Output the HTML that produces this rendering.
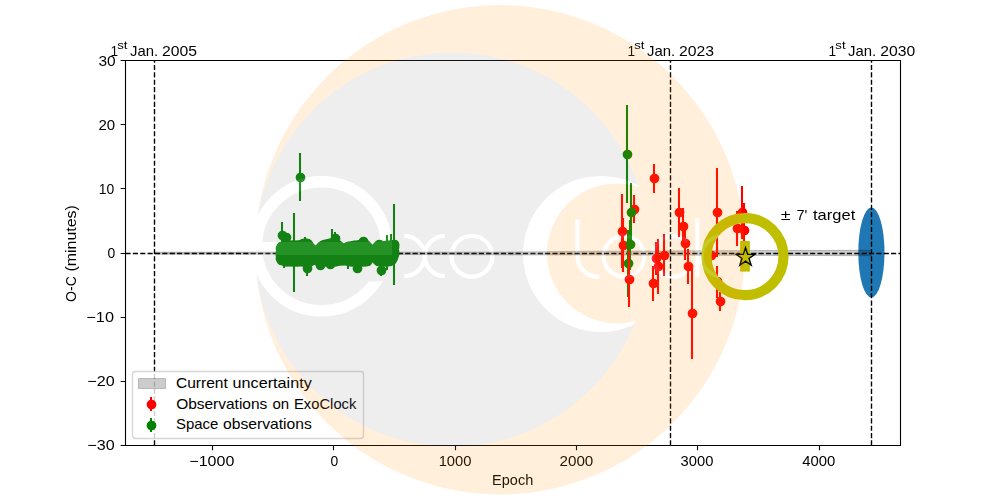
<!DOCTYPE html>
<html lang="en"><head><meta charset="utf-8"><title>O-C diagram</title>
<style>
html,body{margin:0;padding:0;background:#fff;}
body{width:1000px;height:500px;overflow:hidden;}
svg{display:block;}
text{font-family:"Liberation Sans",sans-serif;fill:#000;font-kerning:none;font-variant-ligatures:none;}
</style></head><body>
<svg width="1000" height="500" viewBox="0 0 1000 500">
<defs><clipPath id="ax"><rect x="125" y="60" width="775" height="385"/></clipPath>
<clipPath id="gc"><circle cx="452" cy="249.5" r="197"/></clipPath>
<mask id="egap" maskUnits="userSpaceOnUse" x="240" y="160" width="170" height="170"><rect x="240" y="160" width="170" height="170" fill="#fff"/><rect x="335" y="255" width="70" height="26.4" fill="#000"/></mask>
</defs>
<rect width="1000" height="500" fill="#fff"/>
<g clip-path="url(#ax)">
<ellipse cx="871.4" cy="252.5" rx="13.1" ry="44.95" fill="#1f77b4"/>
<path d="M154.4 252.1L450 252.1L508 252L596 251.2L768 250.5L850 250.35L871.4 250.3L871.4 255.7L850 255.65L768 255.4L596 255L508 254.95L450 254.65L300 254.2L154.4 254.15Z" fill="#000" fill-opacity="0.2" stroke="#000" stroke-opacity="0.2" stroke-width="1"/>
<path d="M125.5 253.5H900.5" stroke="#000" stroke-width="1.389" stroke-dasharray="5.139 2.222" fill="none"/>
<path d="M154.5 445.5V60.5" stroke="#000" stroke-width="1.389" stroke-dasharray="5.139 2.222" fill="none"/>
<path d="M670.5 445.5V60.5" stroke="#000" stroke-width="1.389" stroke-dasharray="5.139 2.222" fill="none"/>
<path d="M871.5 445.5V60.5" stroke="#000" stroke-width="1.389" stroke-dasharray="5.139 2.222" fill="none"/>
<path d="M622 194V268M623 218V272M634 195V223M654 164V193M653 266V301M656 242V275M658 239V294M664 234V276M679 188V237M683 208V244M685 228V260M688 249V284M692 268V359M711 249V261M717 168V257M717 266V298M720 292V311M737 211V246M742 186V239M744 203V257" stroke="#ff0000" stroke-width="2.083" fill="none"/>
<g fill="#ff0000"><circle cx="622.5" cy="231.5" r="4.86"/><circle cx="623.5" cy="245.5" r="4.86"/><circle cx="634.5" cy="209.5" r="4.86"/><circle cx="654.5" cy="178.5" r="4.86"/><circle cx="653.5" cy="283.5" r="4.86"/><circle cx="656.5" cy="258.5" r="4.86"/><circle cx="658.5" cy="266.5" r="4.86"/><circle cx="664.5" cy="255.5" r="4.86"/><circle cx="679.5" cy="212.5" r="4.86"/><circle cx="683.5" cy="226.5" r="4.86"/><circle cx="685.5" cy="243.5" r="4.86"/><circle cx="688.5" cy="266.5" r="4.86"/><circle cx="692.5" cy="313.5" r="4.86"/><circle cx="711.5" cy="255.5" r="4.86"/><circle cx="717.5" cy="212.5" r="4.86"/><circle cx="717.5" cy="281.5" r="4.86"/><circle cx="720.5" cy="301.5" r="4.86"/><circle cx="737.5" cy="228.5" r="4.86"/><circle cx="742.5" cy="212.5" r="4.86"/><circle cx="744.5" cy="230.5" r="4.86"/></g>
<path d="M280 250V255M280 251V256M280 251V256M280 246V251M280 256V261M280 253V258M281 245V250M281 257V262M281 249V254M281 244V249M281 258V263M281 251V256M282 244V249M282 258V263M282 257V262M282 244V249M282 258V263M282 257V262M283 244V249M283 258V263M283 245V250M284 244V249M284 258V263M284 247V252M284 243V248M284 258V263M284 244V249M285 243V248M285 259V264M285 250V255M285 243V248M285 259V264M285 244V249M286 243V248M286 259V264M286 250V255M286 243V248M286 259V264M286 253V258M287 243V248M287 259V264M287 247V252M287 243V248M287 259V264M287 254V259M288 243V248M288 259V264M288 252V257M288 243V248M288 259V264M288 243V248M289 243V248M289 259V264M289 252V257M290 243V248M290 259V264M290 247V252M290 243V248M290 259V264M290 249V254M291 243V248M291 259V264M291 247V252M291 243V248M291 259V264M291 254V259M292 243V248M292 259V264M292 250V255M292 243V248M292 259V264M292 245V250M293 243V248M293 259V264M293 252V257M293 243V248M293 259V264M293 255V260M294 243V248M294 259V264M294 248V253M295 243V248M295 259V264M295 246V251M295 243V248M295 259V264M295 249V254M296 243V248M296 259V264M296 258V263M296 243V248M296 259V264M296 259V264M297 243V248M297 259V264M297 254V259M297 243V248M297 259V264M297 258V263M298 243V248M298 259V264M298 257V262M298 243V248M298 259V264M298 249V254M299 243V248M299 259V264M299 244V249M299 243V248M299 259V264M299 253V258M300 243V248M300 259V264M300 252V257M301 242V247M301 259V264M301 248V253M301 242V247M301 259V264M301 246V251M302 242V247M302 259V264M302 249V254M302 242V247M302 259V264M302 250V255M303 242V247M303 259V264M303 246V251M303 241V246M303 259V264M303 247V252M304 241V246M304 259V264M304 249V254M304 241V246M304 259V264M304 257V262M305 241V246M305 259V264M305 252V257M306 241V246M306 259V264M306 246V251M306 241V246M306 259V264M306 246V251M307 241V246M307 259V264M307 249V254M307 242V247M307 259V264M307 245V250M308 242V247M308 259V264M308 246V251M308 243V248M308 259V264M308 251V256M309 244V249M309 259V264M309 245V250M309 244V249M309 259V264M309 251V256M310 245V250M310 259V264M310 250V255M310 246V251M310 258V263M310 254V259M311 246V251M311 258V263M311 255V260M312 247V252M312 257V262M312 254V259M312 247V252M312 257V262M312 254V259M313 248V253M313 257V262M313 251V256M313 248V253M313 257V262M313 254V259M314 248V253M314 257V262M314 251V256M314 248V253M314 257V262M314 253V258M315 249V254M315 257V262M315 251V256M315 249V254M315 257V262M315 252V257M316 249V254M316 257V262M316 249V254M317 248V253M317 258V263M317 251V256M317 248V253M317 258V263M317 258V263M318 248V253M318 258V263M318 250V255M318 248V253M318 259V264M318 255V260M319 247V252M319 259V264M319 255V260M319 246V251M319 259V264M319 255V260M320 246V251M320 259V264M320 252V257M320 245V250M320 259V264M320 253V258M321 244V249M321 259V264M321 245V250M321 244V249M321 259V264M321 245V250M322 243V248M322 259V264M322 246V251M323 243V248M323 259V264M323 245V250M323 243V248M323 259V264M323 244V249M324 243V248M324 259V264M324 245V250M324 242V247M324 259V264M324 252V257M325 242V247M325 259V264M325 245V250M325 242V247M325 259V264M325 258V263M326 242V247M326 259V264M326 253V258M326 242V247M326 259V264M326 251V256M327 242V247M327 259V264M327 254V259M328 242V247M328 259V264M328 246V251M328 242V247M328 259V264M328 257V262M329 241V246M329 259V264M329 256V261M329 241V246M329 259V264M329 254V259M330 241V246M330 259V264M330 250V255M330 241V246M330 259V264M330 256V261M331 241V246M331 259V264M331 254V259M331 241V246M331 259V264M331 253V258M332 241V246M332 259V264M332 257V262M332 241V246M332 259V264M332 252V257M333 241V246M333 259V264M333 248V253M334 241V246M334 259V264M334 251V256M334 241V246M334 259V264M334 245V250M335 241V246M335 259V264M335 245V250M335 241V246M335 259V264M335 254V259M336 242V247M336 259V264M336 255V260M336 242V247M336 259V264M336 258V263M337 242V247M337 258V263M337 256V261M337 243V248M337 258V263M337 251V256M338 243V248M338 258V263M338 244V249M339 244V249M339 258V263M339 251V256M339 244V249M339 258V263M339 257V262M340 245V250M340 258V263M340 256V261M340 245V250M340 258V263M340 252V257M341 246V251M341 258V263M341 252V257M341 246V251M341 258V263M341 249V254M342 246V251M342 258V263M342 248V253M342 246V251M342 258V263M342 247V252M343 246V251M343 258V263M343 257V262M343 246V251M343 258V263M343 254V259M344 246V251M344 258V263M344 248V253M345 246V251M345 258V263M345 251V256M345 246V251M345 258V263M345 247V252M346 246V251M346 258V263M346 248V253M346 245V250M346 258V263M346 255V260M347 245V250M347 258V263M347 254V259M347 245V250M347 258V263M347 251V256M348 244V249M348 258V263M348 248V253M348 244V249M348 258V263M348 254V259M349 244V249M349 259V264M349 258V263M350 244V249M350 259V264M350 250V255M350 244V249M350 259V264M350 245V250M351 244V249M351 259V264M351 245V250M351 244V249M351 259V264M351 245V250M352 244V249M352 259V264M352 258V263M352 244V249M352 259V264M352 252V257M353 244V249M353 259V264M353 256V261M353 243V248M353 259V264M353 246V251M354 243V248M354 259V264M354 247V252M354 243V248M354 259V264M354 254V259M355 243V248M355 259V264M355 257V262M356 243V248M356 259V264M356 248V253M356 243V248M356 259V264M356 244V249M357 243V248M357 259V264M357 257V262M357 243V248M357 259V264M357 248V253M358 243V248M358 259V264M358 255V260M358 243V248M358 259V264M358 245V250M359 243V248M359 259V264M359 254V259M359 243V248M359 259V264M359 256V261M360 242V247M360 259V264M360 255V260M361 242V247M361 259V264M361 248V253M361 242V247M361 259V264M361 254V259M362 242V247M362 259V264M362 245V250M362 242V247M362 259V264M362 247V252M363 242V247M363 259V264M363 249V254M363 242V247M363 259V264M363 257V262M364 242V247M364 259V264M364 245V250M364 242V247M364 259V264M364 257V262M365 242V247M365 259V264M365 256V261M365 243V248M365 259V264M365 258V263M366 243V248M366 259V264M366 249V254M367 244V249M367 259V264M367 247V252M367 245V250M367 258V263M367 248V253M368 245V250M368 256V261M368 255V260M368 246V251M368 256V261M368 255V260M369 247V252M369 255V260M369 253V258M369 247V252M369 255V260M369 251V256M370 247V252M370 254V259M370 249V254M370 248V253M370 254V259M370 253V258M371 248V253M371 254V259M371 253V258M372 248V253M372 254V259M372 248V253M372 248V253M372 254V259M372 249V254M373 248V253M373 254V259M373 253V258M373 248V253M373 254V259M373 253V258M374 247V252M374 254V259M374 250V255M374 247V252M374 255V260M374 249V254M375 247V252M375 255V260M375 250V255M375 246V251M375 256V261M375 251V256M376 246V251M376 256V261M376 247V252M376 245V250M376 257V262M376 255V260M377 244V249M377 258V263M377 251V256M378 243V248M378 258V263M378 255V260M378 243V248M378 259V264M378 247V252M379 243V248M379 259V264M379 258V263M379 243V248M379 259V264M379 255V260M380 243V248M380 259V264M380 249V254M380 243V248M380 259V264M380 258V263M381 244V249M381 259V264M381 254V259M381 244V249M381 259V264M381 256V261M382 244V249M382 259V264M382 244V249M383 244V249M383 259V264M383 245V250M383 244V249M383 259V264M383 255V260M384 244V249M384 259V264M384 248V253M384 244V249M384 259V264M384 252V257M385 244V249M385 259V264M385 246V251M385 244V249M385 259V264M385 259V264M386 243V248M386 259V264M386 251V256M386 243V248M386 259V264M386 256V261M387 243V248M387 259V264M387 244V249M387 243V248M387 259V264M387 251V256M388 243V248M388 259V264M388 244V249M389 243V248M389 259V264M389 257V262M389 243V248M389 258V263M389 250V255M390 243V248M390 258V263M390 244V249M390 243V248M390 258V263M390 244V249M391 243V248M391 258V263M391 251V256M391 243V248M391 258V263M391 244V249M392 243V248M392 257V262M392 246V251M392 243V248M392 256V261M392 249V254M393 244V249M393 255V260M393 249V254M394 245V250M394 252V257M394 249V254M300 153V201M282 222V248M286 234V240M294 213V292M335 232V244M332 229V257M394 204V285M394 242V248M307 260V276M320 262V268M330 261V267M357 265V271M381 265V276M387 235V270M391 234V266M363 238V244M379 241V247M305 237V259M284 248V268M348 247V269M627 105V203M631 183V241M630 220V270M628 230V297" stroke="#008000" stroke-width="2.083" fill="none"/>
<g fill="#008000"><circle cx="280.5" cy="252.5" r="4.86"/><circle cx="280.5" cy="253.5" r="4.86"/><circle cx="280.5" cy="253.5" r="4.86"/><circle cx="280.5" cy="248.5" r="4.86"/><circle cx="280.5" cy="258.5" r="4.86"/><circle cx="280.5" cy="255.5" r="4.86"/><circle cx="281.5" cy="247.5" r="4.86"/><circle cx="281.5" cy="259.5" r="4.86"/><circle cx="281.5" cy="251.5" r="4.86"/><circle cx="281.5" cy="246.5" r="4.86"/><circle cx="281.5" cy="260.5" r="4.86"/><circle cx="281.5" cy="253.5" r="4.86"/><circle cx="282.5" cy="246.5" r="4.86"/><circle cx="282.5" cy="260.5" r="4.86"/><circle cx="282.5" cy="259.5" r="4.86"/><circle cx="282.5" cy="246.5" r="4.86"/><circle cx="282.5" cy="260.5" r="4.86"/><circle cx="282.5" cy="259.5" r="4.86"/><circle cx="283.5" cy="246.5" r="4.86"/><circle cx="283.5" cy="260.5" r="4.86"/><circle cx="283.5" cy="247.5" r="4.86"/><circle cx="284.5" cy="246.5" r="4.86"/><circle cx="284.5" cy="260.5" r="4.86"/><circle cx="284.5" cy="249.5" r="4.86"/><circle cx="284.5" cy="245.5" r="4.86"/><circle cx="284.5" cy="260.5" r="4.86"/><circle cx="284.5" cy="246.5" r="4.86"/><circle cx="285.5" cy="245.5" r="4.86"/><circle cx="285.5" cy="261.5" r="4.86"/><circle cx="285.5" cy="252.5" r="4.86"/><circle cx="285.5" cy="245.5" r="4.86"/><circle cx="285.5" cy="261.5" r="4.86"/><circle cx="285.5" cy="246.5" r="4.86"/><circle cx="286.5" cy="245.5" r="4.86"/><circle cx="286.5" cy="261.5" r="4.86"/><circle cx="286.5" cy="252.5" r="4.86"/><circle cx="286.5" cy="245.5" r="4.86"/><circle cx="286.5" cy="261.5" r="4.86"/><circle cx="286.5" cy="255.5" r="4.86"/><circle cx="287.5" cy="245.5" r="4.86"/><circle cx="287.5" cy="261.5" r="4.86"/><circle cx="287.5" cy="249.5" r="4.86"/><circle cx="287.5" cy="245.5" r="4.86"/><circle cx="287.5" cy="261.5" r="4.86"/><circle cx="287.5" cy="256.5" r="4.86"/><circle cx="288.5" cy="245.5" r="4.86"/><circle cx="288.5" cy="261.5" r="4.86"/><circle cx="288.5" cy="254.5" r="4.86"/><circle cx="288.5" cy="245.5" r="4.86"/><circle cx="288.5" cy="261.5" r="4.86"/><circle cx="288.5" cy="245.5" r="4.86"/><circle cx="289.5" cy="245.5" r="4.86"/><circle cx="289.5" cy="261.5" r="4.86"/><circle cx="289.5" cy="254.5" r="4.86"/><circle cx="290.5" cy="245.5" r="4.86"/><circle cx="290.5" cy="261.5" r="4.86"/><circle cx="290.5" cy="249.5" r="4.86"/><circle cx="290.5" cy="245.5" r="4.86"/><circle cx="290.5" cy="261.5" r="4.86"/><circle cx="290.5" cy="251.5" r="4.86"/><circle cx="291.5" cy="245.5" r="4.86"/><circle cx="291.5" cy="261.5" r="4.86"/><circle cx="291.5" cy="249.5" r="4.86"/><circle cx="291.5" cy="245.5" r="4.86"/><circle cx="291.5" cy="261.5" r="4.86"/><circle cx="291.5" cy="256.5" r="4.86"/><circle cx="292.5" cy="245.5" r="4.86"/><circle cx="292.5" cy="261.5" r="4.86"/><circle cx="292.5" cy="252.5" r="4.86"/><circle cx="292.5" cy="245.5" r="4.86"/><circle cx="292.5" cy="261.5" r="4.86"/><circle cx="292.5" cy="247.5" r="4.86"/><circle cx="293.5" cy="245.5" r="4.86"/><circle cx="293.5" cy="261.5" r="4.86"/><circle cx="293.5" cy="254.5" r="4.86"/><circle cx="293.5" cy="245.5" r="4.86"/><circle cx="293.5" cy="261.5" r="4.86"/><circle cx="293.5" cy="257.5" r="4.86"/><circle cx="294.5" cy="245.5" r="4.86"/><circle cx="294.5" cy="261.5" r="4.86"/><circle cx="294.5" cy="250.5" r="4.86"/><circle cx="295.5" cy="245.5" r="4.86"/><circle cx="295.5" cy="261.5" r="4.86"/><circle cx="295.5" cy="248.5" r="4.86"/><circle cx="295.5" cy="245.5" r="4.86"/><circle cx="295.5" cy="261.5" r="4.86"/><circle cx="295.5" cy="251.5" r="4.86"/><circle cx="296.5" cy="245.5" r="4.86"/><circle cx="296.5" cy="261.5" r="4.86"/><circle cx="296.5" cy="260.5" r="4.86"/><circle cx="296.5" cy="245.5" r="4.86"/><circle cx="296.5" cy="261.5" r="4.86"/><circle cx="296.5" cy="261.5" r="4.86"/><circle cx="297.5" cy="245.5" r="4.86"/><circle cx="297.5" cy="261.5" r="4.86"/><circle cx="297.5" cy="256.5" r="4.86"/><circle cx="297.5" cy="245.5" r="4.86"/><circle cx="297.5" cy="261.5" r="4.86"/><circle cx="297.5" cy="260.5" r="4.86"/><circle cx="298.5" cy="245.5" r="4.86"/><circle cx="298.5" cy="261.5" r="4.86"/><circle cx="298.5" cy="259.5" r="4.86"/><circle cx="298.5" cy="245.5" r="4.86"/><circle cx="298.5" cy="261.5" r="4.86"/><circle cx="298.5" cy="251.5" r="4.86"/><circle cx="299.5" cy="245.5" r="4.86"/><circle cx="299.5" cy="261.5" r="4.86"/><circle cx="299.5" cy="246.5" r="4.86"/><circle cx="299.5" cy="245.5" r="4.86"/><circle cx="299.5" cy="261.5" r="4.86"/><circle cx="299.5" cy="255.5" r="4.86"/><circle cx="300.5" cy="245.5" r="4.86"/><circle cx="300.5" cy="261.5" r="4.86"/><circle cx="300.5" cy="254.5" r="4.86"/><circle cx="301.5" cy="244.5" r="4.86"/><circle cx="301.5" cy="261.5" r="4.86"/><circle cx="301.5" cy="250.5" r="4.86"/><circle cx="301.5" cy="244.5" r="4.86"/><circle cx="301.5" cy="261.5" r="4.86"/><circle cx="301.5" cy="248.5" r="4.86"/><circle cx="302.5" cy="244.5" r="4.86"/><circle cx="302.5" cy="261.5" r="4.86"/><circle cx="302.5" cy="251.5" r="4.86"/><circle cx="302.5" cy="244.5" r="4.86"/><circle cx="302.5" cy="261.5" r="4.86"/><circle cx="302.5" cy="252.5" r="4.86"/><circle cx="303.5" cy="244.5" r="4.86"/><circle cx="303.5" cy="261.5" r="4.86"/><circle cx="303.5" cy="248.5" r="4.86"/><circle cx="303.5" cy="243.5" r="4.86"/><circle cx="303.5" cy="261.5" r="4.86"/><circle cx="303.5" cy="249.5" r="4.86"/><circle cx="304.5" cy="243.5" r="4.86"/><circle cx="304.5" cy="261.5" r="4.86"/><circle cx="304.5" cy="251.5" r="4.86"/><circle cx="304.5" cy="243.5" r="4.86"/><circle cx="304.5" cy="261.5" r="4.86"/><circle cx="304.5" cy="259.5" r="4.86"/><circle cx="305.5" cy="243.5" r="4.86"/><circle cx="305.5" cy="261.5" r="4.86"/><circle cx="305.5" cy="254.5" r="4.86"/><circle cx="306.5" cy="243.5" r="4.86"/><circle cx="306.5" cy="261.5" r="4.86"/><circle cx="306.5" cy="248.5" r="4.86"/><circle cx="306.5" cy="243.5" r="4.86"/><circle cx="306.5" cy="261.5" r="4.86"/><circle cx="306.5" cy="248.5" r="4.86"/><circle cx="307.5" cy="243.5" r="4.86"/><circle cx="307.5" cy="261.5" r="4.86"/><circle cx="307.5" cy="251.5" r="4.86"/><circle cx="307.5" cy="244.5" r="4.86"/><circle cx="307.5" cy="261.5" r="4.86"/><circle cx="307.5" cy="247.5" r="4.86"/><circle cx="308.5" cy="244.5" r="4.86"/><circle cx="308.5" cy="261.5" r="4.86"/><circle cx="308.5" cy="248.5" r="4.86"/><circle cx="308.5" cy="245.5" r="4.86"/><circle cx="308.5" cy="261.5" r="4.86"/><circle cx="308.5" cy="253.5" r="4.86"/><circle cx="309.5" cy="246.5" r="4.86"/><circle cx="309.5" cy="261.5" r="4.86"/><circle cx="309.5" cy="247.5" r="4.86"/><circle cx="309.5" cy="246.5" r="4.86"/><circle cx="309.5" cy="261.5" r="4.86"/><circle cx="309.5" cy="253.5" r="4.86"/><circle cx="310.5" cy="247.5" r="4.86"/><circle cx="310.5" cy="261.5" r="4.86"/><circle cx="310.5" cy="252.5" r="4.86"/><circle cx="310.5" cy="248.5" r="4.86"/><circle cx="310.5" cy="260.5" r="4.86"/><circle cx="310.5" cy="256.5" r="4.86"/><circle cx="311.5" cy="248.5" r="4.86"/><circle cx="311.5" cy="260.5" r="4.86"/><circle cx="311.5" cy="257.5" r="4.86"/><circle cx="312.5" cy="249.5" r="4.86"/><circle cx="312.5" cy="259.5" r="4.86"/><circle cx="312.5" cy="256.5" r="4.86"/><circle cx="312.5" cy="249.5" r="4.86"/><circle cx="312.5" cy="259.5" r="4.86"/><circle cx="312.5" cy="256.5" r="4.86"/><circle cx="313.5" cy="250.5" r="4.86"/><circle cx="313.5" cy="259.5" r="4.86"/><circle cx="313.5" cy="253.5" r="4.86"/><circle cx="313.5" cy="250.5" r="4.86"/><circle cx="313.5" cy="259.5" r="4.86"/><circle cx="313.5" cy="256.5" r="4.86"/><circle cx="314.5" cy="250.5" r="4.86"/><circle cx="314.5" cy="259.5" r="4.86"/><circle cx="314.5" cy="253.5" r="4.86"/><circle cx="314.5" cy="250.5" r="4.86"/><circle cx="314.5" cy="259.5" r="4.86"/><circle cx="314.5" cy="255.5" r="4.86"/><circle cx="315.5" cy="251.5" r="4.86"/><circle cx="315.5" cy="259.5" r="4.86"/><circle cx="315.5" cy="253.5" r="4.86"/><circle cx="315.5" cy="251.5" r="4.86"/><circle cx="315.5" cy="259.5" r="4.86"/><circle cx="315.5" cy="254.5" r="4.86"/><circle cx="316.5" cy="251.5" r="4.86"/><circle cx="316.5" cy="259.5" r="4.86"/><circle cx="316.5" cy="251.5" r="4.86"/><circle cx="317.5" cy="250.5" r="4.86"/><circle cx="317.5" cy="260.5" r="4.86"/><circle cx="317.5" cy="253.5" r="4.86"/><circle cx="317.5" cy="250.5" r="4.86"/><circle cx="317.5" cy="260.5" r="4.86"/><circle cx="317.5" cy="260.5" r="4.86"/><circle cx="318.5" cy="250.5" r="4.86"/><circle cx="318.5" cy="260.5" r="4.86"/><circle cx="318.5" cy="252.5" r="4.86"/><circle cx="318.5" cy="250.5" r="4.86"/><circle cx="318.5" cy="261.5" r="4.86"/><circle cx="318.5" cy="257.5" r="4.86"/><circle cx="319.5" cy="249.5" r="4.86"/><circle cx="319.5" cy="261.5" r="4.86"/><circle cx="319.5" cy="257.5" r="4.86"/><circle cx="319.5" cy="248.5" r="4.86"/><circle cx="319.5" cy="261.5" r="4.86"/><circle cx="319.5" cy="257.5" r="4.86"/><circle cx="320.5" cy="248.5" r="4.86"/><circle cx="320.5" cy="261.5" r="4.86"/><circle cx="320.5" cy="254.5" r="4.86"/><circle cx="320.5" cy="247.5" r="4.86"/><circle cx="320.5" cy="261.5" r="4.86"/><circle cx="320.5" cy="255.5" r="4.86"/><circle cx="321.5" cy="246.5" r="4.86"/><circle cx="321.5" cy="261.5" r="4.86"/><circle cx="321.5" cy="247.5" r="4.86"/><circle cx="321.5" cy="246.5" r="4.86"/><circle cx="321.5" cy="261.5" r="4.86"/><circle cx="321.5" cy="247.5" r="4.86"/><circle cx="322.5" cy="245.5" r="4.86"/><circle cx="322.5" cy="261.5" r="4.86"/><circle cx="322.5" cy="248.5" r="4.86"/><circle cx="323.5" cy="245.5" r="4.86"/><circle cx="323.5" cy="261.5" r="4.86"/><circle cx="323.5" cy="247.5" r="4.86"/><circle cx="323.5" cy="245.5" r="4.86"/><circle cx="323.5" cy="261.5" r="4.86"/><circle cx="323.5" cy="246.5" r="4.86"/><circle cx="324.5" cy="245.5" r="4.86"/><circle cx="324.5" cy="261.5" r="4.86"/><circle cx="324.5" cy="247.5" r="4.86"/><circle cx="324.5" cy="244.5" r="4.86"/><circle cx="324.5" cy="261.5" r="4.86"/><circle cx="324.5" cy="254.5" r="4.86"/><circle cx="325.5" cy="244.5" r="4.86"/><circle cx="325.5" cy="261.5" r="4.86"/><circle cx="325.5" cy="247.5" r="4.86"/><circle cx="325.5" cy="244.5" r="4.86"/><circle cx="325.5" cy="261.5" r="4.86"/><circle cx="325.5" cy="260.5" r="4.86"/><circle cx="326.5" cy="244.5" r="4.86"/><circle cx="326.5" cy="261.5" r="4.86"/><circle cx="326.5" cy="255.5" r="4.86"/><circle cx="326.5" cy="244.5" r="4.86"/><circle cx="326.5" cy="261.5" r="4.86"/><circle cx="326.5" cy="253.5" r="4.86"/><circle cx="327.5" cy="244.5" r="4.86"/><circle cx="327.5" cy="261.5" r="4.86"/><circle cx="327.5" cy="256.5" r="4.86"/><circle cx="328.5" cy="244.5" r="4.86"/><circle cx="328.5" cy="261.5" r="4.86"/><circle cx="328.5" cy="248.5" r="4.86"/><circle cx="328.5" cy="244.5" r="4.86"/><circle cx="328.5" cy="261.5" r="4.86"/><circle cx="328.5" cy="259.5" r="4.86"/><circle cx="329.5" cy="243.5" r="4.86"/><circle cx="329.5" cy="261.5" r="4.86"/><circle cx="329.5" cy="258.5" r="4.86"/><circle cx="329.5" cy="243.5" r="4.86"/><circle cx="329.5" cy="261.5" r="4.86"/><circle cx="329.5" cy="256.5" r="4.86"/><circle cx="330.5" cy="243.5" r="4.86"/><circle cx="330.5" cy="261.5" r="4.86"/><circle cx="330.5" cy="252.5" r="4.86"/><circle cx="330.5" cy="243.5" r="4.86"/><circle cx="330.5" cy="261.5" r="4.86"/><circle cx="330.5" cy="258.5" r="4.86"/><circle cx="331.5" cy="243.5" r="4.86"/><circle cx="331.5" cy="261.5" r="4.86"/><circle cx="331.5" cy="256.5" r="4.86"/><circle cx="331.5" cy="243.5" r="4.86"/><circle cx="331.5" cy="261.5" r="4.86"/><circle cx="331.5" cy="255.5" r="4.86"/><circle cx="332.5" cy="243.5" r="4.86"/><circle cx="332.5" cy="261.5" r="4.86"/><circle cx="332.5" cy="259.5" r="4.86"/><circle cx="332.5" cy="243.5" r="4.86"/><circle cx="332.5" cy="261.5" r="4.86"/><circle cx="332.5" cy="254.5" r="4.86"/><circle cx="333.5" cy="243.5" r="4.86"/><circle cx="333.5" cy="261.5" r="4.86"/><circle cx="333.5" cy="250.5" r="4.86"/><circle cx="334.5" cy="243.5" r="4.86"/><circle cx="334.5" cy="261.5" r="4.86"/><circle cx="334.5" cy="253.5" r="4.86"/><circle cx="334.5" cy="243.5" r="4.86"/><circle cx="334.5" cy="261.5" r="4.86"/><circle cx="334.5" cy="247.5" r="4.86"/><circle cx="335.5" cy="243.5" r="4.86"/><circle cx="335.5" cy="261.5" r="4.86"/><circle cx="335.5" cy="247.5" r="4.86"/><circle cx="335.5" cy="243.5" r="4.86"/><circle cx="335.5" cy="261.5" r="4.86"/><circle cx="335.5" cy="256.5" r="4.86"/><circle cx="336.5" cy="244.5" r="4.86"/><circle cx="336.5" cy="261.5" r="4.86"/><circle cx="336.5" cy="257.5" r="4.86"/><circle cx="336.5" cy="244.5" r="4.86"/><circle cx="336.5" cy="261.5" r="4.86"/><circle cx="336.5" cy="260.5" r="4.86"/><circle cx="337.5" cy="244.5" r="4.86"/><circle cx="337.5" cy="260.5" r="4.86"/><circle cx="337.5" cy="258.5" r="4.86"/><circle cx="337.5" cy="245.5" r="4.86"/><circle cx="337.5" cy="260.5" r="4.86"/><circle cx="337.5" cy="253.5" r="4.86"/><circle cx="338.5" cy="245.5" r="4.86"/><circle cx="338.5" cy="260.5" r="4.86"/><circle cx="338.5" cy="246.5" r="4.86"/><circle cx="339.5" cy="246.5" r="4.86"/><circle cx="339.5" cy="260.5" r="4.86"/><circle cx="339.5" cy="253.5" r="4.86"/><circle cx="339.5" cy="246.5" r="4.86"/><circle cx="339.5" cy="260.5" r="4.86"/><circle cx="339.5" cy="259.5" r="4.86"/><circle cx="340.5" cy="247.5" r="4.86"/><circle cx="340.5" cy="260.5" r="4.86"/><circle cx="340.5" cy="258.5" r="4.86"/><circle cx="340.5" cy="247.5" r="4.86"/><circle cx="340.5" cy="260.5" r="4.86"/><circle cx="340.5" cy="254.5" r="4.86"/><circle cx="341.5" cy="248.5" r="4.86"/><circle cx="341.5" cy="260.5" r="4.86"/><circle cx="341.5" cy="254.5" r="4.86"/><circle cx="341.5" cy="248.5" r="4.86"/><circle cx="341.5" cy="260.5" r="4.86"/><circle cx="341.5" cy="251.5" r="4.86"/><circle cx="342.5" cy="248.5" r="4.86"/><circle cx="342.5" cy="260.5" r="4.86"/><circle cx="342.5" cy="250.5" r="4.86"/><circle cx="342.5" cy="248.5" r="4.86"/><circle cx="342.5" cy="260.5" r="4.86"/><circle cx="342.5" cy="249.5" r="4.86"/><circle cx="343.5" cy="248.5" r="4.86"/><circle cx="343.5" cy="260.5" r="4.86"/><circle cx="343.5" cy="259.5" r="4.86"/><circle cx="343.5" cy="248.5" r="4.86"/><circle cx="343.5" cy="260.5" r="4.86"/><circle cx="343.5" cy="256.5" r="4.86"/><circle cx="344.5" cy="248.5" r="4.86"/><circle cx="344.5" cy="260.5" r="4.86"/><circle cx="344.5" cy="250.5" r="4.86"/><circle cx="345.5" cy="248.5" r="4.86"/><circle cx="345.5" cy="260.5" r="4.86"/><circle cx="345.5" cy="253.5" r="4.86"/><circle cx="345.5" cy="248.5" r="4.86"/><circle cx="345.5" cy="260.5" r="4.86"/><circle cx="345.5" cy="249.5" r="4.86"/><circle cx="346.5" cy="248.5" r="4.86"/><circle cx="346.5" cy="260.5" r="4.86"/><circle cx="346.5" cy="250.5" r="4.86"/><circle cx="346.5" cy="247.5" r="4.86"/><circle cx="346.5" cy="260.5" r="4.86"/><circle cx="346.5" cy="257.5" r="4.86"/><circle cx="347.5" cy="247.5" r="4.86"/><circle cx="347.5" cy="260.5" r="4.86"/><circle cx="347.5" cy="256.5" r="4.86"/><circle cx="347.5" cy="247.5" r="4.86"/><circle cx="347.5" cy="260.5" r="4.86"/><circle cx="347.5" cy="253.5" r="4.86"/><circle cx="348.5" cy="246.5" r="4.86"/><circle cx="348.5" cy="260.5" r="4.86"/><circle cx="348.5" cy="250.5" r="4.86"/><circle cx="348.5" cy="246.5" r="4.86"/><circle cx="348.5" cy="260.5" r="4.86"/><circle cx="348.5" cy="256.5" r="4.86"/><circle cx="349.5" cy="246.5" r="4.86"/><circle cx="349.5" cy="261.5" r="4.86"/><circle cx="349.5" cy="260.5" r="4.86"/><circle cx="350.5" cy="246.5" r="4.86"/><circle cx="350.5" cy="261.5" r="4.86"/><circle cx="350.5" cy="252.5" r="4.86"/><circle cx="350.5" cy="246.5" r="4.86"/><circle cx="350.5" cy="261.5" r="4.86"/><circle cx="350.5" cy="247.5" r="4.86"/><circle cx="351.5" cy="246.5" r="4.86"/><circle cx="351.5" cy="261.5" r="4.86"/><circle cx="351.5" cy="247.5" r="4.86"/><circle cx="351.5" cy="246.5" r="4.86"/><circle cx="351.5" cy="261.5" r="4.86"/><circle cx="351.5" cy="247.5" r="4.86"/><circle cx="352.5" cy="246.5" r="4.86"/><circle cx="352.5" cy="261.5" r="4.86"/><circle cx="352.5" cy="260.5" r="4.86"/><circle cx="352.5" cy="246.5" r="4.86"/><circle cx="352.5" cy="261.5" r="4.86"/><circle cx="352.5" cy="254.5" r="4.86"/><circle cx="353.5" cy="246.5" r="4.86"/><circle cx="353.5" cy="261.5" r="4.86"/><circle cx="353.5" cy="258.5" r="4.86"/><circle cx="353.5" cy="245.5" r="4.86"/><circle cx="353.5" cy="261.5" r="4.86"/><circle cx="353.5" cy="248.5" r="4.86"/><circle cx="354.5" cy="245.5" r="4.86"/><circle cx="354.5" cy="261.5" r="4.86"/><circle cx="354.5" cy="249.5" r="4.86"/><circle cx="354.5" cy="245.5" r="4.86"/><circle cx="354.5" cy="261.5" r="4.86"/><circle cx="354.5" cy="256.5" r="4.86"/><circle cx="355.5" cy="245.5" r="4.86"/><circle cx="355.5" cy="261.5" r="4.86"/><circle cx="355.5" cy="259.5" r="4.86"/><circle cx="356.5" cy="245.5" r="4.86"/><circle cx="356.5" cy="261.5" r="4.86"/><circle cx="356.5" cy="250.5" r="4.86"/><circle cx="356.5" cy="245.5" r="4.86"/><circle cx="356.5" cy="261.5" r="4.86"/><circle cx="356.5" cy="246.5" r="4.86"/><circle cx="357.5" cy="245.5" r="4.86"/><circle cx="357.5" cy="261.5" r="4.86"/><circle cx="357.5" cy="259.5" r="4.86"/><circle cx="357.5" cy="245.5" r="4.86"/><circle cx="357.5" cy="261.5" r="4.86"/><circle cx="357.5" cy="250.5" r="4.86"/><circle cx="358.5" cy="245.5" r="4.86"/><circle cx="358.5" cy="261.5" r="4.86"/><circle cx="358.5" cy="257.5" r="4.86"/><circle cx="358.5" cy="245.5" r="4.86"/><circle cx="358.5" cy="261.5" r="4.86"/><circle cx="358.5" cy="247.5" r="4.86"/><circle cx="359.5" cy="245.5" r="4.86"/><circle cx="359.5" cy="261.5" r="4.86"/><circle cx="359.5" cy="256.5" r="4.86"/><circle cx="359.5" cy="245.5" r="4.86"/><circle cx="359.5" cy="261.5" r="4.86"/><circle cx="359.5" cy="258.5" r="4.86"/><circle cx="360.5" cy="244.5" r="4.86"/><circle cx="360.5" cy="261.5" r="4.86"/><circle cx="360.5" cy="257.5" r="4.86"/><circle cx="361.5" cy="244.5" r="4.86"/><circle cx="361.5" cy="261.5" r="4.86"/><circle cx="361.5" cy="250.5" r="4.86"/><circle cx="361.5" cy="244.5" r="4.86"/><circle cx="361.5" cy="261.5" r="4.86"/><circle cx="361.5" cy="256.5" r="4.86"/><circle cx="362.5" cy="244.5" r="4.86"/><circle cx="362.5" cy="261.5" r="4.86"/><circle cx="362.5" cy="247.5" r="4.86"/><circle cx="362.5" cy="244.5" r="4.86"/><circle cx="362.5" cy="261.5" r="4.86"/><circle cx="362.5" cy="249.5" r="4.86"/><circle cx="363.5" cy="244.5" r="4.86"/><circle cx="363.5" cy="261.5" r="4.86"/><circle cx="363.5" cy="251.5" r="4.86"/><circle cx="363.5" cy="244.5" r="4.86"/><circle cx="363.5" cy="261.5" r="4.86"/><circle cx="363.5" cy="259.5" r="4.86"/><circle cx="364.5" cy="244.5" r="4.86"/><circle cx="364.5" cy="261.5" r="4.86"/><circle cx="364.5" cy="247.5" r="4.86"/><circle cx="364.5" cy="244.5" r="4.86"/><circle cx="364.5" cy="261.5" r="4.86"/><circle cx="364.5" cy="259.5" r="4.86"/><circle cx="365.5" cy="244.5" r="4.86"/><circle cx="365.5" cy="261.5" r="4.86"/><circle cx="365.5" cy="258.5" r="4.86"/><circle cx="365.5" cy="245.5" r="4.86"/><circle cx="365.5" cy="261.5" r="4.86"/><circle cx="365.5" cy="260.5" r="4.86"/><circle cx="366.5" cy="245.5" r="4.86"/><circle cx="366.5" cy="261.5" r="4.86"/><circle cx="366.5" cy="251.5" r="4.86"/><circle cx="367.5" cy="246.5" r="4.86"/><circle cx="367.5" cy="261.5" r="4.86"/><circle cx="367.5" cy="249.5" r="4.86"/><circle cx="367.5" cy="247.5" r="4.86"/><circle cx="367.5" cy="260.5" r="4.86"/><circle cx="367.5" cy="250.5" r="4.86"/><circle cx="368.5" cy="247.5" r="4.86"/><circle cx="368.5" cy="258.5" r="4.86"/><circle cx="368.5" cy="257.5" r="4.86"/><circle cx="368.5" cy="248.5" r="4.86"/><circle cx="368.5" cy="258.5" r="4.86"/><circle cx="368.5" cy="257.5" r="4.86"/><circle cx="369.5" cy="249.5" r="4.86"/><circle cx="369.5" cy="257.5" r="4.86"/><circle cx="369.5" cy="255.5" r="4.86"/><circle cx="369.5" cy="249.5" r="4.86"/><circle cx="369.5" cy="257.5" r="4.86"/><circle cx="369.5" cy="253.5" r="4.86"/><circle cx="370.5" cy="249.5" r="4.86"/><circle cx="370.5" cy="256.5" r="4.86"/><circle cx="370.5" cy="251.5" r="4.86"/><circle cx="370.5" cy="250.5" r="4.86"/><circle cx="370.5" cy="256.5" r="4.86"/><circle cx="370.5" cy="255.5" r="4.86"/><circle cx="371.5" cy="250.5" r="4.86"/><circle cx="371.5" cy="256.5" r="4.86"/><circle cx="371.5" cy="255.5" r="4.86"/><circle cx="372.5" cy="250.5" r="4.86"/><circle cx="372.5" cy="256.5" r="4.86"/><circle cx="372.5" cy="250.5" r="4.86"/><circle cx="372.5" cy="250.5" r="4.86"/><circle cx="372.5" cy="256.5" r="4.86"/><circle cx="372.5" cy="251.5" r="4.86"/><circle cx="373.5" cy="250.5" r="4.86"/><circle cx="373.5" cy="256.5" r="4.86"/><circle cx="373.5" cy="255.5" r="4.86"/><circle cx="373.5" cy="250.5" r="4.86"/><circle cx="373.5" cy="256.5" r="4.86"/><circle cx="373.5" cy="255.5" r="4.86"/><circle cx="374.5" cy="249.5" r="4.86"/><circle cx="374.5" cy="256.5" r="4.86"/><circle cx="374.5" cy="252.5" r="4.86"/><circle cx="374.5" cy="249.5" r="4.86"/><circle cx="374.5" cy="257.5" r="4.86"/><circle cx="374.5" cy="251.5" r="4.86"/><circle cx="375.5" cy="249.5" r="4.86"/><circle cx="375.5" cy="257.5" r="4.86"/><circle cx="375.5" cy="252.5" r="4.86"/><circle cx="375.5" cy="248.5" r="4.86"/><circle cx="375.5" cy="258.5" r="4.86"/><circle cx="375.5" cy="253.5" r="4.86"/><circle cx="376.5" cy="248.5" r="4.86"/><circle cx="376.5" cy="258.5" r="4.86"/><circle cx="376.5" cy="249.5" r="4.86"/><circle cx="376.5" cy="247.5" r="4.86"/><circle cx="376.5" cy="259.5" r="4.86"/><circle cx="376.5" cy="257.5" r="4.86"/><circle cx="377.5" cy="246.5" r="4.86"/><circle cx="377.5" cy="260.5" r="4.86"/><circle cx="377.5" cy="253.5" r="4.86"/><circle cx="378.5" cy="245.5" r="4.86"/><circle cx="378.5" cy="260.5" r="4.86"/><circle cx="378.5" cy="257.5" r="4.86"/><circle cx="378.5" cy="245.5" r="4.86"/><circle cx="378.5" cy="261.5" r="4.86"/><circle cx="378.5" cy="249.5" r="4.86"/><circle cx="379.5" cy="245.5" r="4.86"/><circle cx="379.5" cy="261.5" r="4.86"/><circle cx="379.5" cy="260.5" r="4.86"/><circle cx="379.5" cy="245.5" r="4.86"/><circle cx="379.5" cy="261.5" r="4.86"/><circle cx="379.5" cy="257.5" r="4.86"/><circle cx="380.5" cy="245.5" r="4.86"/><circle cx="380.5" cy="261.5" r="4.86"/><circle cx="380.5" cy="251.5" r="4.86"/><circle cx="380.5" cy="245.5" r="4.86"/><circle cx="380.5" cy="261.5" r="4.86"/><circle cx="380.5" cy="260.5" r="4.86"/><circle cx="381.5" cy="246.5" r="4.86"/><circle cx="381.5" cy="261.5" r="4.86"/><circle cx="381.5" cy="256.5" r="4.86"/><circle cx="381.5" cy="246.5" r="4.86"/><circle cx="381.5" cy="261.5" r="4.86"/><circle cx="381.5" cy="258.5" r="4.86"/><circle cx="382.5" cy="246.5" r="4.86"/><circle cx="382.5" cy="261.5" r="4.86"/><circle cx="382.5" cy="246.5" r="4.86"/><circle cx="383.5" cy="246.5" r="4.86"/><circle cx="383.5" cy="261.5" r="4.86"/><circle cx="383.5" cy="247.5" r="4.86"/><circle cx="383.5" cy="246.5" r="4.86"/><circle cx="383.5" cy="261.5" r="4.86"/><circle cx="383.5" cy="257.5" r="4.86"/><circle cx="384.5" cy="246.5" r="4.86"/><circle cx="384.5" cy="261.5" r="4.86"/><circle cx="384.5" cy="250.5" r="4.86"/><circle cx="384.5" cy="246.5" r="4.86"/><circle cx="384.5" cy="261.5" r="4.86"/><circle cx="384.5" cy="254.5" r="4.86"/><circle cx="385.5" cy="246.5" r="4.86"/><circle cx="385.5" cy="261.5" r="4.86"/><circle cx="385.5" cy="248.5" r="4.86"/><circle cx="385.5" cy="246.5" r="4.86"/><circle cx="385.5" cy="261.5" r="4.86"/><circle cx="385.5" cy="261.5" r="4.86"/><circle cx="386.5" cy="245.5" r="4.86"/><circle cx="386.5" cy="261.5" r="4.86"/><circle cx="386.5" cy="253.5" r="4.86"/><circle cx="386.5" cy="245.5" r="4.86"/><circle cx="386.5" cy="261.5" r="4.86"/><circle cx="386.5" cy="258.5" r="4.86"/><circle cx="387.5" cy="245.5" r="4.86"/><circle cx="387.5" cy="261.5" r="4.86"/><circle cx="387.5" cy="246.5" r="4.86"/><circle cx="387.5" cy="245.5" r="4.86"/><circle cx="387.5" cy="261.5" r="4.86"/><circle cx="387.5" cy="253.5" r="4.86"/><circle cx="388.5" cy="245.5" r="4.86"/><circle cx="388.5" cy="261.5" r="4.86"/><circle cx="388.5" cy="246.5" r="4.86"/><circle cx="389.5" cy="245.5" r="4.86"/><circle cx="389.5" cy="261.5" r="4.86"/><circle cx="389.5" cy="259.5" r="4.86"/><circle cx="389.5" cy="245.5" r="4.86"/><circle cx="389.5" cy="260.5" r="4.86"/><circle cx="389.5" cy="252.5" r="4.86"/><circle cx="390.5" cy="245.5" r="4.86"/><circle cx="390.5" cy="260.5" r="4.86"/><circle cx="390.5" cy="246.5" r="4.86"/><circle cx="390.5" cy="245.5" r="4.86"/><circle cx="390.5" cy="260.5" r="4.86"/><circle cx="390.5" cy="246.5" r="4.86"/><circle cx="391.5" cy="245.5" r="4.86"/><circle cx="391.5" cy="260.5" r="4.86"/><circle cx="391.5" cy="253.5" r="4.86"/><circle cx="391.5" cy="245.5" r="4.86"/><circle cx="391.5" cy="260.5" r="4.86"/><circle cx="391.5" cy="246.5" r="4.86"/><circle cx="392.5" cy="245.5" r="4.86"/><circle cx="392.5" cy="259.5" r="4.86"/><circle cx="392.5" cy="248.5" r="4.86"/><circle cx="392.5" cy="245.5" r="4.86"/><circle cx="392.5" cy="258.5" r="4.86"/><circle cx="392.5" cy="251.5" r="4.86"/><circle cx="393.5" cy="246.5" r="4.86"/><circle cx="393.5" cy="257.5" r="4.86"/><circle cx="393.5" cy="251.5" r="4.86"/><circle cx="394.5" cy="247.5" r="4.86"/><circle cx="394.5" cy="254.5" r="4.86"/><circle cx="394.5" cy="251.5" r="4.86"/><circle cx="300.5" cy="177.5" r="4.86"/><circle cx="282.5" cy="235.5" r="4.86"/><circle cx="286.5" cy="237.5" r="4.86"/><circle cx="294.5" cy="252.5" r="4.86"/><circle cx="335.5" cy="238.5" r="4.86"/><circle cx="332.5" cy="243.5" r="4.86"/><circle cx="394.5" cy="244.5" r="4.86"/><circle cx="394.5" cy="245.5" r="4.86"/><circle cx="307.5" cy="268.5" r="4.86"/><circle cx="320.5" cy="265.5" r="4.86"/><circle cx="330.5" cy="264.5" r="4.86"/><circle cx="357.5" cy="268.5" r="4.86"/><circle cx="381.5" cy="270.5" r="4.86"/><circle cx="387.5" cy="252.5" r="4.86"/><circle cx="391.5" cy="250.5" r="4.86"/><circle cx="363.5" cy="241.5" r="4.86"/><circle cx="379.5" cy="244.5" r="4.86"/><circle cx="305.5" cy="248.5" r="4.86"/><circle cx="284.5" cy="258.5" r="4.86"/><circle cx="348.5" cy="258.5" r="4.86"/><circle cx="627.5" cy="154.5" r="4.86"/><circle cx="631.5" cy="212.5" r="4.86"/><circle cx="630.5" cy="244.5" r="4.86"/><circle cx="628.5" cy="263.5" r="4.86"/></g>
<path d="M629 251V307" stroke="#ff0000" stroke-width="2.083" fill="none"/>
<g fill="#ff0000"><circle cx="629.5" cy="279.5" r="4.86"/></g>
<path d="M745 241V271.6" stroke="#bfbf00" stroke-width="9.72" fill="none"/>
<path d="M745.5 247.68L747.68 254.4L754.75 254.4L749.03 258.55L751.21 265.27L745.5 261.11L739.79 265.27L741.97 258.55L736.25 254.4L743.32 254.4Z" fill="#bfbf00" stroke="#000" stroke-width="1.389" stroke-linejoin="miter"/>
<circle cx="745" cy="256.6" r="38.5" fill="none" stroke="#bfbf00" stroke-width="10.14"/>
</g>
<path d="M125.5 60.5H900.5V445.5H125.5Z" stroke="#000" stroke-width="1.111" fill="none" stroke-linejoin="miter"/>
<path d="M212.5 445.5v4.86M333.5 445.5v4.86M455.5 445.5v4.86M576.5 445.5v4.86M697.5 445.5v4.86M819.5 445.5v4.86M125.5 60.5h-4.86M125.5 124.5h-4.86M125.5 188.5h-4.86M125.5 253.5h-4.86M125.5 317.5h-4.86M125.5 381.5h-4.86M125.5 445.5h-4.86" stroke="#000" stroke-width="1.111" fill="none"/>
<g opacity="0.999"><text transform="matrix(1.1120 0 0 1 189.34 466.00)" font-size="14.4">−1000</text>
<text transform="matrix(0.9668 0 0 1 330.41 466.00)" font-size="14.4">0</text>
<text transform="matrix(1.0270 0 0 1 438.64 466.00)" font-size="14.4">1000</text>
<text transform="matrix(1.0567 0 0 1 559.49 466.00)" font-size="14.4">2000</text>
<text transform="matrix(1.0231 0 0 1 680.58 466.00)" font-size="14.4">3000</text>
<text transform="matrix(1.0342 0 0 1 802.27 466.00)" font-size="14.4">4000</text>
<text transform="matrix(1.0455 0 0 1 98.50 130.00)" font-size="14.4">20</text>
<text transform="matrix(0.9693 0 0 1 98.71 194.00)" font-size="14.4">10</text>
<text transform="matrix(0.9668 0 0 1 107.41 258.00)" font-size="14.4">0</text>
<text transform="matrix(1.1321 0 0 1 86.32 322.00)" font-size="14.4">−10</text>
<text transform="matrix(1.1189 0 0 1 87.33 386.00)" font-size="14.4">−20</text>
<text transform="matrix(1.1189 0 0 1 87.33 450.00)" font-size="14.4">−30</text>
<text transform="matrix(1.0734 0 0 1 98.41 66.00)" font-size="14.4">30</text>
<text transform="matrix(1.0093 0 0 1 492.05 485.00)" font-size="14.4">Epoch</text>
<text transform="matrix(0 -0.9768 1 0 76.40 301.97)" font-size="14.4">O-C</text>
<text transform="matrix(0 -1.1091 1 0 76.40 271.57)" font-size="14.4">(minutes)</text>
<text transform="matrix(1.2343 0 0 1 780.69 220.00)" font-size="14.4">±</text>
<text transform="matrix(1.0083 0 0 1 796.51 220.00)" font-size="14.4">7'</text>
<text transform="matrix(1.1468 0 0 1 813.01 220.00)" font-size="14.4">target</text>
<text transform="matrix(0.9503 0 0 1 110.51 56.00)" font-size="14.4">1</text>
<text transform="matrix(1.3065 0 0 1 117.18 49.00)" font-size="10.1">st</text>
<text transform="matrix(1.0359 0 0 1 129.92 56.00)" font-size="14.4">Jan.</text>
<text transform="matrix(1.0943 0 0 1 162.06 56.00)" font-size="14.4">2005</text>
<text transform="matrix(0.9503 0 0 1 627.51 56.00)" font-size="14.4">1</text>
<text transform="matrix(1.3065 0 0 1 634.18 49.00)" font-size="10.1">st</text>
<text transform="matrix(1.0359 0 0 1 646.92 56.00)" font-size="14.4">Jan.</text>
<text transform="matrix(1.0953 0 0 1 679.06 56.00)" font-size="14.4">2023</text>
<text transform="matrix(0.9503 0 0 1 828.61 56.00)" font-size="14.4">1</text>
<text transform="matrix(1.3065 0 0 1 835.28 49.00)" font-size="10.1">st</text>
<text transform="matrix(1.0359 0 0 1 848.02 56.00)" font-size="14.4">Jan.</text>
<text transform="matrix(1.0928 0 0 1 880.16 56.00)" font-size="14.4">2030</text></g>
<g><rect x="132.5" y="371.5" width="231" height="67" rx="2.78" ry="2.78" fill="#fff" fill-opacity="0.8" stroke="#ccc" stroke-opacity="0.8" stroke-width="1.389"/>
<rect x="138.5" y="378.5" width="27" height="10" fill="#000" fill-opacity="0.2" stroke="#000" stroke-opacity="0.2" stroke-width="1"/>
<path d="M151 397V411" stroke="#ff0000" stroke-width="2.083"/><circle cx="151.5" cy="404.5" r="4.86" fill="#ff0000"/>
<path d="M151 418V432" stroke="#008000" stroke-width="2.083"/><circle cx="151.5" cy="425.5" r="4.86" fill="#008000"/>
</g>
<g opacity="0.999"><text transform="matrix(1.0815 0 0 1 175.96 388.00)" font-size="14.4">Current</text>
<text transform="matrix(1.1252 0 0 1 232.62 388.00)" font-size="14.4">uncertainty</text>
<text transform="matrix(1.0761 0 0 1 176.13 409.00)" font-size="14.4">Observations</text>
<text transform="matrix(1.0426 0 0 1 272.43 409.00)" font-size="14.4">on</text>
<text transform="matrix(1.0253 0 0 1 294.03 409.00)" font-size="14.4">ExoClock</text>
<text transform="matrix(1.0360 0 0 1 176.09 429.00)" font-size="14.4">Space</text>
<text transform="matrix(1.0901 0 0 1 222.95 429.00)" font-size="14.4">observations</text></g>
<g opacity="0.14">
<circle cx="500" cy="249.75" r="244.75" fill="#ff8c00"/>
<circle cx="452" cy="249.5" r="197" fill="#8a8a8a"/>
<g clip-path="url(#gc)"><circle cx="601" cy="253.9" r="78" fill="#fff"/></g>
<circle cx="617" cy="253.4" r="70" fill="#ff8c00"/>
<g mask="url(#egap)"><ellipse cx="321.4" cy="246.25" rx="64.9" ry="64.55" fill="none" stroke="#fff" stroke-width="11.4"/></g>
<rect x="262" y="242" width="130" height="13" fill="#fff"/>
<path d="M404.4 235.9A20.1 20.1 0 0 1 404.4 276.1M444.9 235.9A20.1 20.1 0 0 0 444.9 276.1" fill="none" stroke="#fff" stroke-width="4.2"/>
<circle cx="471.9" cy="256.3" r="20.4" fill="none" stroke="#fff" stroke-width="4.2"/>
<path d="M577.5 219.3V256.3A20.4 20.4 0 0 0 597.9 276.7H599.4" fill="none" stroke="#fff" stroke-width="4.2"/>
<circle cx="623.9" cy="256.4" r="20.3" fill="none" stroke="#fff" stroke-width="4.2"/>
<path d="M687.35 241.95A20.3 20.3 0 1 0 687.35 270.65" fill="none" stroke="#fff" stroke-width="4.2"/>
<path d="M697.3 218V277M719.00 236.32A20.3 20.3 0 0 0 719.00 276.48" fill="none" stroke="#fff" stroke-width="4.2"/>
</g>
</svg></body></html>
